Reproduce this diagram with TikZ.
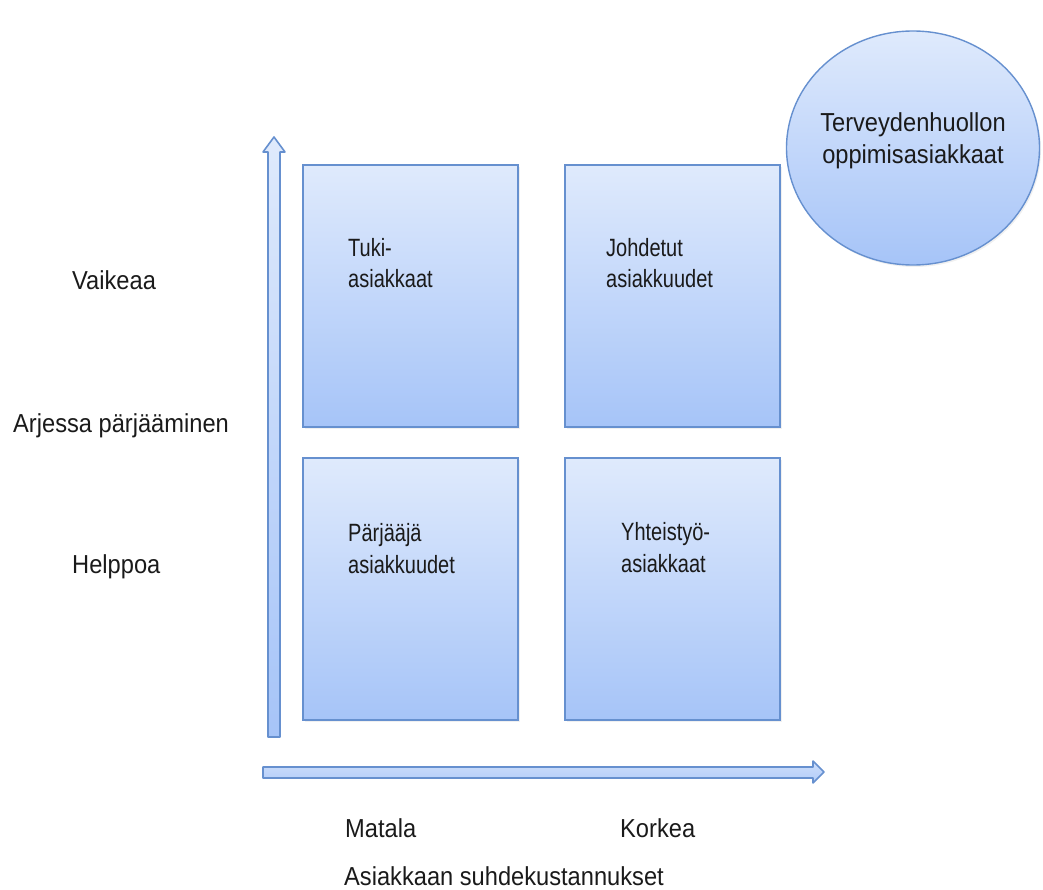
\documentclass[tikz,border=0pt]{standalone}
\usepackage{fontspec}
\setmainfont{Liberation Sans}[FakeStretch=0.91]
\newfontfamily\narrowsans{Liberation Sans}[FakeStretch=0.80]
\usetikzlibrary{shapes.geometric,shadows}
\definecolor{edge}{HTML}{6690CF}
\definecolor{filltop}{HTML}{DFEAFC}
\definecolor{fillbot}{HTML}{A6C4F8}
\definecolor{ink}{HTML}{1A1A1A}
\begin{document}
\begin{tikzpicture}[x=1pt,y=-1pt,
  quad/.style={draw=edge, line width=2pt, top color=filltop, bottom color=fillbot,
    minimum width=215pt, minimum height=262pt, inner sep=0pt, anchor=north west,
    drop shadow={opacity=0.12, shadow xshift=1.5pt, shadow yshift=-2pt}},
  lbl/.style={font=\fontsize{26}{32}\selectfont, text=ink, inner sep=0pt, align=left, anchor=base west},
  quadlbl/.style={lbl, font=\narrowsans\fontsize{25}{32}\selectfont},
  axisarrow/.style={draw=edge, line width=1.6pt, line join=round}]
\useasboundingbox (0,0) rectangle (1043,890);

% four quadrant boxes
\node[quad] (tl) at (302,164) {};
\node[quad] (tr) at (564,164) {};
\node[quad] (bl) at (302,457) {};
\node[quad] (br) at (564,457) {};

% labels inside the boxes (anchored on the baseline of their last line)
\node[quadlbl] (tlt) at (348,288) {Tuki-\\asiakkaat};
\node[quadlbl] (trt) at (606,288) {Johdetut\\asiakkuudet};
\node[quadlbl] (blt) at (348,573) {Pärjääjä\\asiakkuudet};
\node[quadlbl] (brt) at (621,572) {Yhteistyö-\\asiakkaat};

% vertical axis arrow
\draw[axisarrow, top color=filltop, bottom color=fillbot]
  (268,737) -- (268,152) -- (263,152) -- (274,137) -- (285,152) -- (280,152) -- (280,737) -- cycle;
% horizontal axis arrow
\draw[axisarrow, top color=filltop!70!fillbot, bottom color=fillbot!80!filltop]
  (263,767) -- (813,767) -- (813,761) -- (824,772) -- (813,783) -- (813,778) -- (263,778) -- cycle;

% circle in the corner
\node[ellipse, draw=edge, line width=1.4pt, top color=filltop, bottom color=fillbot,
  minimum width=253pt, minimum height=234pt, inner sep=0pt,
  drop shadow={opacity=0.12, shadow xshift=1.5pt, shadow yshift=-2pt}] (circ) at (913,148) {};
\node[lbl, anchor=base, align=center] (circt) at (913,164) {Terveydenhuollon\\oppimisasiakkaat};

% vertical axis texts
\node[lbl, anchor=base west] (vaik) at (72,290) {Vaikeaa};
\node[lbl, anchor=base west] (arj) at (13,432) {Arjessa pärjääminen};
\node[lbl, anchor=base west] (help) at (72,573) {Helppoa};

% horizontal axis texts
\node[lbl] (mat) at (345,837) {Matala};
\node[lbl] (kor) at (620,837) {Korkea};
\node[lbl] (asi) at (344,885) {Asiakkaan suhdekustannukset};
\end{tikzpicture}
\end{document}
